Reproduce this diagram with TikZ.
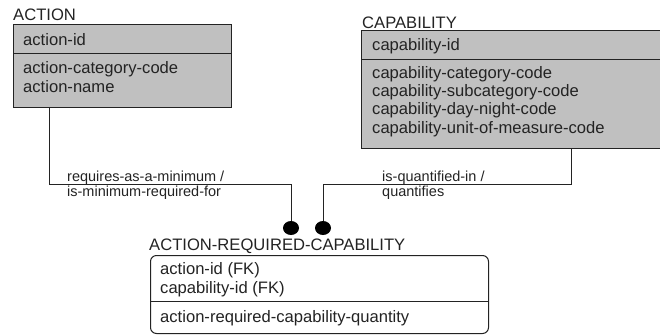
\documentclass[tikz,border=0pt]{standalone}
\usepackage{fontspec}
\setmainfont{Liberation Sans}
\usetikzlibrary{positioning,shapes.geometric}
\definecolor{entgray}{RGB}{192,192,192}
\definecolor{inkgray}{RGB}{35,35,35}

\begin{document}
\begin{tikzpicture}[x=1pt,y=-1pt,
  title/.style={anchor=base west,inner sep=0pt,text=inkgray,font=\fontsize{16.6}{18.5}\selectfont},
  entity/.style={draw=inkgray,line width=1pt,anchor=north west,inner sep=0pt},
  attr/.style={anchor=base west,inner sep=0pt,align=left,text=inkgray,font=\fontsize{16.6}{18.3}\selectfont},
  rel/.style={anchor=base west,inner sep=0pt,align=left,text=inkgray,font=\fontsize{14.5}{15}\selectfont},
  link/.style={draw=inkgray,line width=1pt},
  dot/.style={ellipse,fill=black,minimum width=16pt,minimum height=14pt,inner sep=0pt}
]
\useasboundingbox (0,0) rectangle (660,335);
% ACTION (multi-line nodes sit on their last baseline)
\node[title] (acttitle) at (13,20) {ACTION};
\node[entity,fill=entgray,minimum width=218pt,minimum height=83pt] (action) at (13,24) {};
\draw[link] (action.west |- 0,53) -- (action.east |- 0,53);
\node[attr] (actkey) at (23,45) {action-id};
\node[attr] (actattr) at (23,92) {action-category-code\\action-name};
% CAPABILITY
\node[title] (captitle) at (362,28) {CAPABILITY};
\node[entity,fill=entgray,minimum width=302pt,minimum height=118pt] (capability) at (361,30) {};
\draw[link] (capability.west |- 0,59) -- (capability.east |- 0,59);
\node[attr] (capkey) at (372,50) {capability-id};
\node[attr] (capattr) at (372,133) {capability-category-code\\capability-subcategory-code\\capability-day-night-code\\capability-unit-of-measure-code};
% ACTION-REQUIRED-CAPABILITY
\node[title] (arctitle) at (149,250) {ACTION-REQUIRED-CAPABILITY};
\node[entity,rounded corners=6pt,minimum width=338pt,minimum height=78pt] (arc) at (150,255) {};
\draw[link] (arc.west |- 0,301) -- (arc.east |- 0,301);
\node[attr] (arckey) at (160,293) {action-id (FK)\\capability-id (FK)};
\node[attr] (arcattr) at (160,322) {action-required-capability-quantity};
% relationships
\node[dot] (dotact) at (291,228) {};
\node[dot] (dotcap) at (323,228) {};
\draw[link] (action.south -| 49,0) |- (dotact |- 0,184) -- (dotact);
\draw[link] (capability.south -| 571,0) |- (dotcap |- 0,184) -- (dotcap);
\node[rel] (relact) at (67,196) {requires-as-a-minimum /\\is-minimum-required-for};
\node[rel] (relcap) at (382,196) {is-quantified-in /\\quantifies};
\end{tikzpicture}
\end{document}
